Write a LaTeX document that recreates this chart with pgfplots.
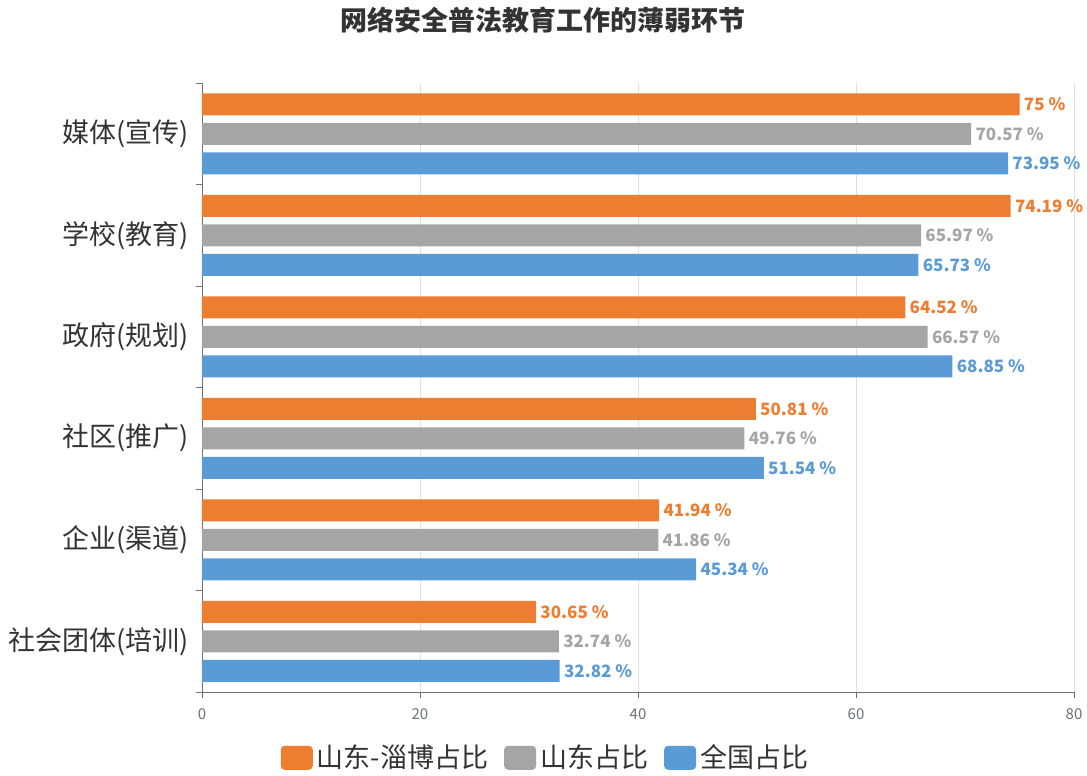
\documentclass[border=0pt]{standalone}
\usepackage{pgfplots}
\pgfplotsset{compat=1.18}
\usepackage{fontspec}
\setmainfont{Noto Sans CJK SC}

\definecolor{cOrange}{HTML}{ED7D31}
\definecolor{cGray}{HTML}{A5A5A5}
\definecolor{cBlue}{HTML}{5B9BD5}
\definecolor{axisgray}{HTML}{6E7079}
\definecolor{gridgray}{HTML}{E0E0E0}
\definecolor{textgray}{HTML}{333333}

\begin{document}
\begin{tikzpicture}
\useasboundingbox (-101pt,-42pt) rectangle (442.5pt,346pt);
\begin{axis}[
  width=436pt, height=304.5pt, scale only axis,
  xbar, bar width=11pt,
  xmin=0, xmax=80, ymin=-0.5, ymax=5.5, y dir=reverse,
  axis lines=left, axis line style={-, draw=axisgray},
  xtick={0,20,40,60,80},
  xmajorgrids, grid style={gridgray},
  major tick length=3pt, tick style={draw=axisgray},
  tick align=outside,
  ytick={-0.5,0.5,...,5.5}, yticklabels={},
  extra y ticks={0,1,2,3,4,5},
  extra y tick labels={媒体(宣传),学校(教育),政府(规划),社区(推广),企业(渠道),社会团体(培训)},
  extra y tick style={major tick length=0pt,
    yticklabel style={font=\fontsize{13.5pt}{16pt}\selectfont, text=textgray, xshift=-3pt}},
  xticklabel style={font=\fontsize{7.5pt}{9pt}\selectfont, text=axisgray, yshift=-2pt},
  /pgf/number format/assume math mode=true,
  point meta=x,
  nodes near coords={\pgfmathprintnumber{\pgfplotspointmeta} \%},
  every node near coord/.append style={font=\bfseries\fontsize{8.5pt}{10pt}\selectfont, inner sep=2pt},
  title={\bfseries 网络安全普法教育工作的薄弱环节},
  title style={at={(0.3916,1.084)}, anchor=center, font=\fontsize{13.5pt}{16pt}\selectfont, text=textgray},
  legend style={at={(0.395,-0.108)}, anchor=center, draw=none, legend columns=3,
    font=\fontsize{13.5pt}{16pt}\selectfont, text=textgray,
    /tikz/every even column/.append style={column sep=6pt}},
  legend image code/.code={\fill[#1, rounded corners=2pt] (0pt,-6pt) rectangle (16pt,6pt);},
]
\addplot [fill=cOrange, draw=none, bar shift=14.75pt,
  every node near coord/.append style={text=cOrange}] coordinates {
  (75,0) (74.19,1) (64.52,2) (50.81,3) (41.94,4) (30.65,5)};
\addlegendentry{山东-淄博占比}
\addplot [fill=cGray, draw=none, bar shift=0pt,
  every node near coord/.append style={text=cGray}] coordinates {
  (70.57,0) (65.97,1) (66.57,2) (49.76,3) (41.86,4) (32.74,5)};
\addlegendentry{山东占比}
\addplot [fill=cBlue, draw=none, bar shift=-14.75pt,
  every node near coord/.append style={text=cBlue}] coordinates {
  (73.95,0) (65.73,1) (68.85,2) (51.54,3) (45.34,4) (32.82,5)};
\addlegendentry{全国占比}
\end{axis}
\end{tikzpicture}
\end{document}
